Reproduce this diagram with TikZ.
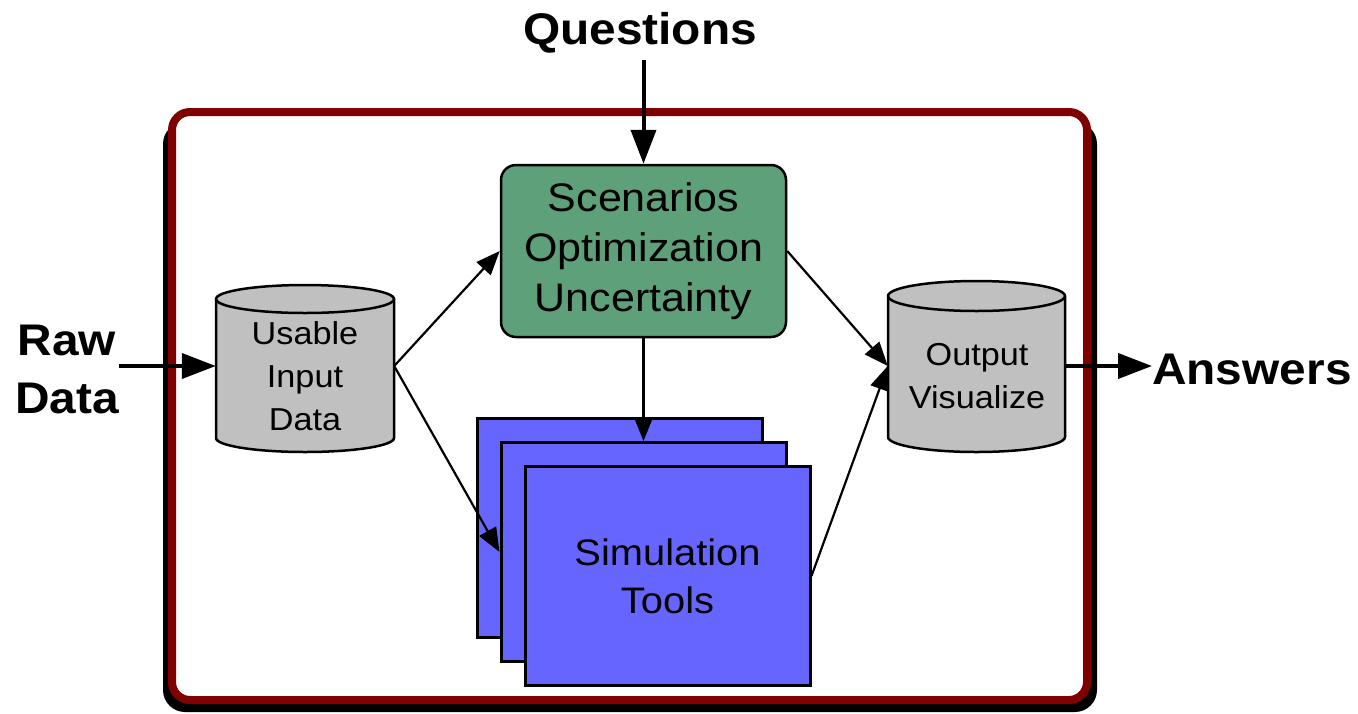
\documentclass[tikz,border=0pt]{standalone}
\usepackage{fontspec}
\setmainfont{Liberation Sans}
\newfontfamily\diagfont[FakeStretch=1.08]{Liberation Sans}
\usetikzlibrary{arrows.meta}

\definecolor{framered}{RGB}{128,0,0}
\definecolor{scengreen}{RGB}{94,160,122}
\definecolor{simblue}{RGB}{102,102,255}
\definecolor{drumgray}{RGB}{192,192,192}

\begin{document}
\begin{tikzpicture}[x=1pt,y=-1pt,
  bigarrow/.style={line width=4pt,-{Triangle[length=34pt,width=25pt]}},
  flow/.style={line width=2.2pt,-{Triangle[length=24pt,width=19pt]}},
  outerlbl/.style={font=\diagfont\bfseries\fontsize{44.3}{58}\selectfont,
    align=center, inner sep=0pt},
  scenbox/.style={draw, line width=2.5pt, fill=scengreen, rounded corners=15pt,
    minimum width=285pt, minimum height=172pt, inner sep=0pt, align=center,
    font=\diagfont\fontsize{39.8}{50}\selectfont},
  simbox/.style={draw, line width=3pt, fill=simblue, minimum width=285pt,
    minimum height=219pt, inner sep=0pt, align=center,
    font=\diagfont\fontsize{36.9}{48}\selectfont},
  drum/.style={draw, line width=2.5pt, fill=drumgray},
  drumlbl/.style={align=center, inner sep=0pt,
    font=\diagfont\fontsize{31.7}{43}\selectfont},
  anchorbox/.style={minimum width=178pt, minimum height=150pt, inner sep=0pt}
]
\useasboundingbox (0,0) rectangle (1358,713);

% frame with its dark shadow
\fill[black, rounded corners=22pt] (163,122) rectangle (1097,712);
\draw[framered, line width=8pt, fill=white, rounded corners=18pt]
  (172,112) rectangle (1087,700);

% usable input data drum
\path[drum] (216,299) -- (216,438)
  arc[start angle=180, end angle=360, x radius=89pt, y radius=14pt]
  -- (394,299)
  arc[start angle=0, end angle=180, x radius=89pt, y radius=14pt] -- cycle;
\draw[line width=2.5pt] (216,299)
  arc[start angle=180, end angle=360, x radius=89pt, y radius=14pt];
\node[anchorbox] (usable) at (305,366) {};
\node[drumlbl] (usabletxt) at (305,376) {Usable\\Input\\Data};

% output drum
\path[drum] (888,296) -- (888,437)
  arc[start angle=180, end angle=360, x radius=88.5pt, y radius=15pt]
  -- (1065,296)
  arc[start angle=0, end angle=180, x radius=88.5pt, y radius=15pt] -- cycle;
\draw[line width=2.5pt] (888,296)
  arc[start angle=180, end angle=360, x radius=88.5pt, y radius=15pt];
\node[anchorbox, minimum width=177pt] (output) at (976.5,366) {};
\node[drumlbl] (outputtxt) at (977,376) {Output\\Visualize};

% scenario box
\node[scenbox] (scen) at (643.5,251) {Scenarios\\Optimization\\Uncertainty};

% stack of simulation tools
\node[simbox] (sim1) at (619.5,527.5) {};
\node[simbox] (sim2) at (643.5,552) {};
\node[simbox] (sim3) at (667.5,576) {Simulation\\Tools};

% outer labels
\node[outerlbl] (questions) at (640,33) {Questions};
\node[outerlbl] (rawdata) at (67,369) {Raw\\Data};
\node[outerlbl, anchor=west] (answers) at (1152,369) {Answers};

% connectors
\draw[bigarrow, shorten <=6pt] (questions.south -| scen.north) -- (scen.north);
\draw[bigarrow] (rawdata.east |- usable.west) -- (usable.west);
\draw[bigarrow] (output.east) -- (answers.west |- output.east);
\draw[flow] (usable.east) -- (scen.west);
\draw[flow] (usable.east) -- (sim2.west);
\draw[flow] (scen.south) -- (sim2.north);
\draw[flow] (scen.east) -- (output.west);
\draw[flow] (sim3.east) -- (output.west);
\end{tikzpicture}
\end{document}
